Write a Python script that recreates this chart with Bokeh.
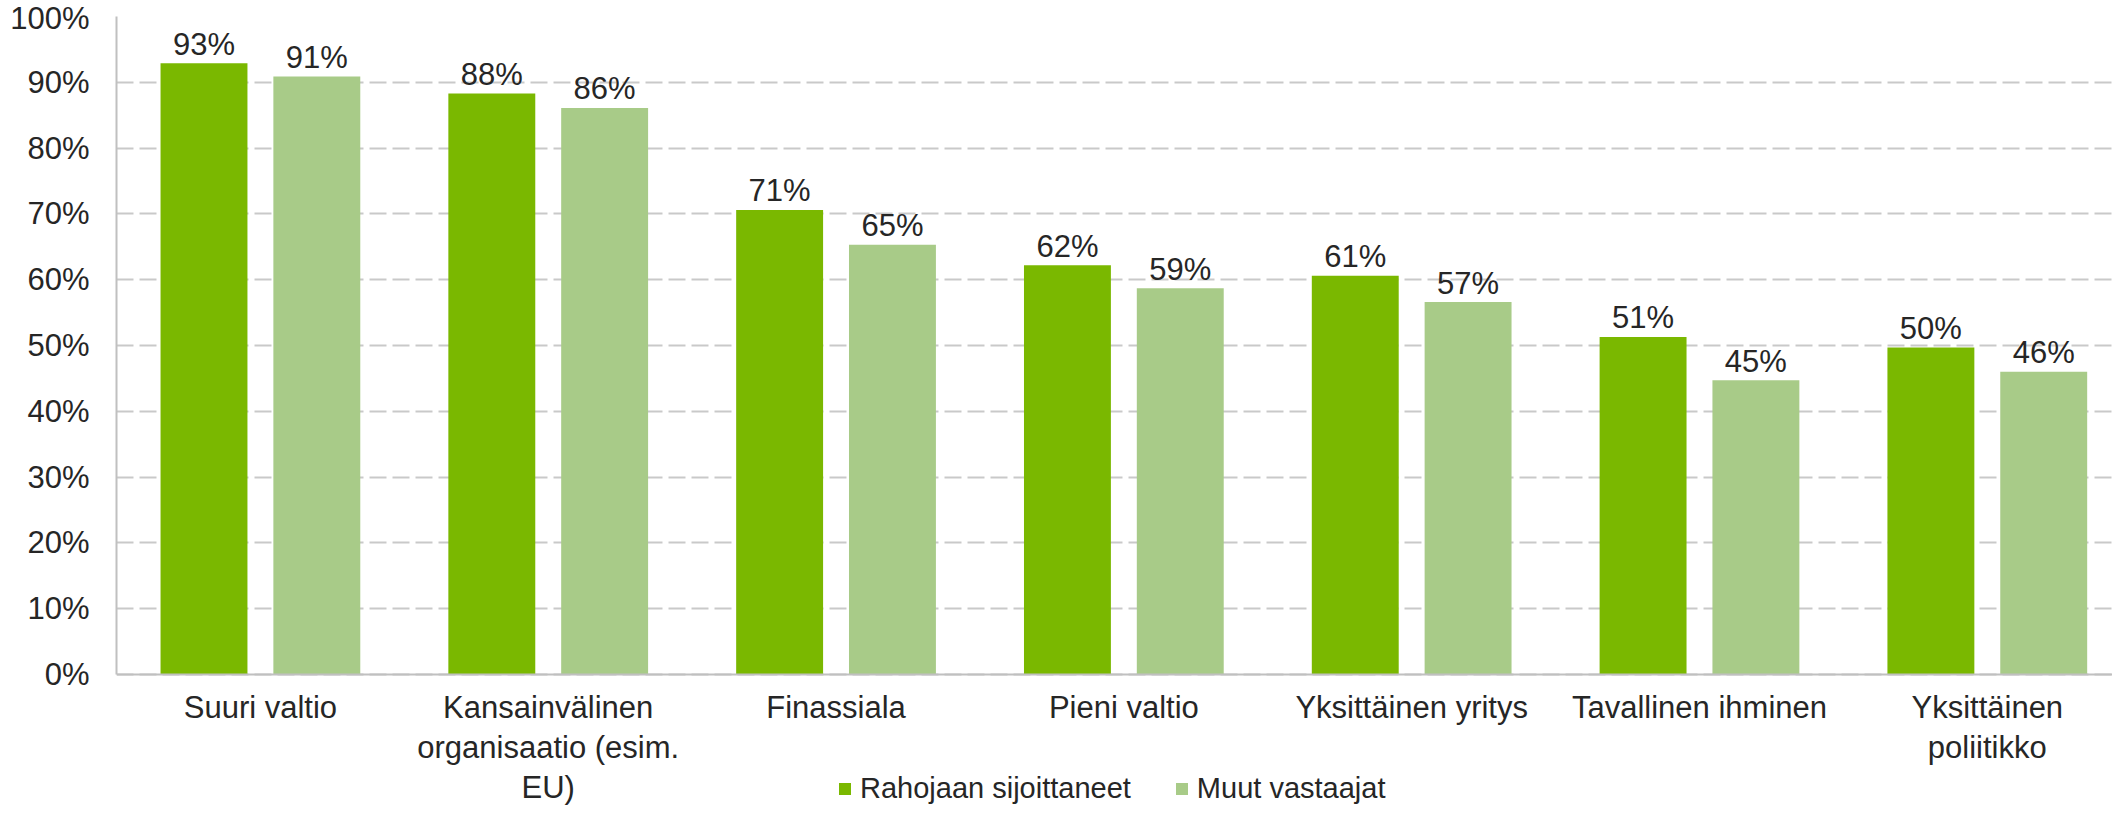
import numpy as np
from bokeh.plotting import figure
from bokeh.models import (ColumnDataSource, Range1d, FixedTicker, PrintfTickFormatter,
                          Legend, LegendItem)
from bokeh.transform import dodge
from bokeh.core.properties import value
from bokeh.embed import file_html
from bokeh.resources import INLINE

categories = ["Suuri valtio", "Kansainvälinen\norganisaatio (esim.\nEU)", "Finassiala",
              "Pieni valtio", "Yksittäinen yritys", "Tavallinen ihminen",
              "Yksittäinen\npoliitikko"]
series_names = ["Rahojaan sijoittaneet", "Muut vastaajat"]
invested = [92.9, 88.3, 70.6, 62.2, 60.6, 51.3, 49.7]
others = [90.9, 86.1, 65.3, 58.7, 56.6, 44.7, 46.0]
y_ticks = [0, 10, 20, 30, 40, 50, 60, 70, 80, 90, 100]

DARK = "#7AB800"
LIGHT = "#A8CB88"
TEXT = "#262626"
GRID = "#C9C9C9"
AXIS = "#C0C0C0"
FONT = "Liberation Sans"

x_centers = np.arange(len(categories)) + 0.5
src = ColumnDataSource(dict(
    x=x_centers, a=invested, b=others,
    la=[f"{round(v)}%" for v in invested],
    lb=[f"{round(v)}%" for v in others],
))

# frame runs from the 100% line down to the bottom of the canvas;
# the 0% line sits 132 px above the bottom (658 px per 100 %)
p = figure(width=2112, height=806, output_backend="svg", toolbar_location=None,
           x_range=Range1d(0, 6.935), y_range=Range1d(-132 / 6.58, 100),
           min_border_left=116, min_border_right=0, min_border_top=16,
           min_border_bottom=0)
p.outline_line_color = None
p.background_fill_color = "white"
p.border_fill_color = "white"

off = 0.196
bw = 0.302
ra = p.vbar(x=dodge("x", -off, range=p.x_range), top="a", bottom=0, width=bw,
            source=src, fill_color=DARK, line_color=None)
rb = p.vbar(x=dodge("x", off, range=p.x_range), top="b", bottom=0, width=bw,
            source=src, fill_color=LIGHT, line_color=None)

for col, lab, d in (("a", "la", -off), ("b", "lb", off)):
    p.text(x=dodge("x", d, range=p.x_range), y=col, text=lab, source=src,
           text_align="center", text_baseline="alphabetic", y_offset=-19,
           text_font=value(FONT), text_font_size="31px", text_color=TEXT)

# axes
p.xaxis.fixed_location = 0
p.xaxis.ticker = FixedTicker(ticks=list(x_centers))
p.xaxis.major_label_overrides = {float(x): c for x, c in zip(x_centers, categories)}
p.yaxis.ticker = FixedTicker(ticks=y_ticks)
p.yaxis.formatter = PrintfTickFormatter(format="%d%%")
p.yaxis.bounds = (0, 100)
for ax in (p.xaxis, p.yaxis):
    ax.axis_line_color = AXIS
    ax.axis_line_width = 2
    ax.major_tick_line_color = None
    ax.minor_tick_line_color = None
    ax.major_tick_in = 0
    ax.major_tick_out = 0
    ax.minor_tick_out = 0
    ax.major_label_text_font = FONT
    ax.major_label_text_font_size = "31px"
    ax.major_label_text_color = TEXT
p.xaxis.major_label_standoff = 15
p.xaxis.major_label_text_line_height = 1.15
p.yaxis.major_label_standoff = 27

p.xgrid.grid_line_color = None
p.ygrid.grid_line_color = GRID
p.ygrid.grid_line_width = 2
p.ygrid.grid_line_dash = "17 6"

legend = Legend(items=[LegendItem(label=series_names[0], renderers=[ra]),
                       LegendItem(label=series_names[1], renderers=[rb])],
                orientation="horizontal", location=(721, 1),
                glyph_width=15, glyph_height=15, label_standoff=8, spacing=43,
                padding=0, margin=0, border_line_color=None,
                background_fill_alpha=0,
                label_text_font=FONT, label_text_font_size="29px",
                label_text_color=TEXT)
p.add_layout(legend, "center")

open("out.html", "w").write(file_html(p, INLINE))
